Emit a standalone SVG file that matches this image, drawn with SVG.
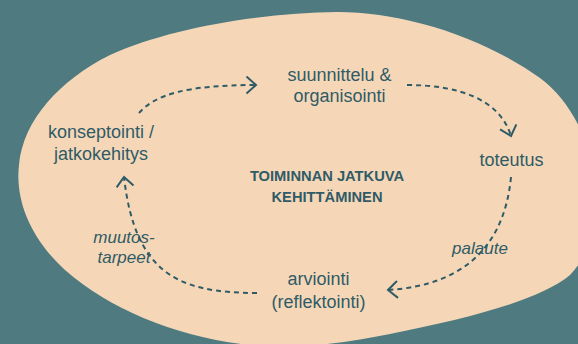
<svg xmlns="http://www.w3.org/2000/svg" width="578" height="344" viewBox="0 0 578 344">
<style>
.t{font-family:"Liberation Sans",Arial,sans-serif;font-size:18px;fill:#2f5b66;text-anchor:middle}
.i{font-style:italic;font-size:17px}
.b{font-weight:bold;font-size:14.7px}
.c{fill:none;stroke:#2f5b66;stroke-width:2;stroke-dasharray:5 4}
</style>
<defs>
<marker id="ah" markerWidth="14" markerHeight="20" refX="11" refY="9.5" orient="auto" markerUnits="userSpaceOnUse">
<path d="M1.5,1 L11,9.5 L1.5,18" fill="none" stroke="#2f5b66" stroke-width="2"/>
</marker>
</defs>
<rect width="578" height="344" fill="#4e7a80"/>
<path id="blob" d="M338,12 C400,12 480,35 540,78 C570,100 590,140 595,180 C598,220 590,255 570,275 C540,300 470,318 390,334 C350,342 300,350 250,345 C180,338 110,310 65,270 C30,238 15,200 19,165 C23,120 60,80 110,55 C170,28 260,13 338,12 Z" fill="#f5d7b8"/>
<g id="connectors">
<path class="c" d="M139,113 C155,95 185,85 256,85" marker-end="url(#ah)"/>
<path class="c" d="M407,85 C460,85 500,100 511,136" marker-end="url(#ah)"/>
<path class="c" d="M511,177 C505,240 470,285 388,290" marker-end="url(#ah)"/>
<path class="c" d="M257,293 C180,293 135,275 124,177" marker-end="url(#ah)"/>
</g>
<g id="n1"><text class="t" x="339.5" y="81">suunnittelu &amp;</text><text class="t" x="339.5" y="102">organisointi</text></g>
<g id="n2"><text class="t" x="511.5" y="166">toteutus</text></g>
<g id="n3"><text class="t" x="318.5" y="285">arviointi</text><text class="t" x="318.5" y="308">(reflektointi)</text></g>
<g id="n4"><text class="t" x="101" y="138">konseptointi /</text><text class="t" x="101" y="160">jatkokehitys</text></g>
<g id="center"><text class="t b" x="327" y="181">TOIMINNAN JATKUVA</text><text class="t b" x="327" y="202">KEHITTÄMINEN</text></g>
<g id="l1"><text class="t i" x="124" y="243">muutos-</text><text class="t i" x="124" y="263">tarpeet</text></g>
<g id="l2"><text class="t i" x="480" y="254">palaute</text></g>
</svg>
